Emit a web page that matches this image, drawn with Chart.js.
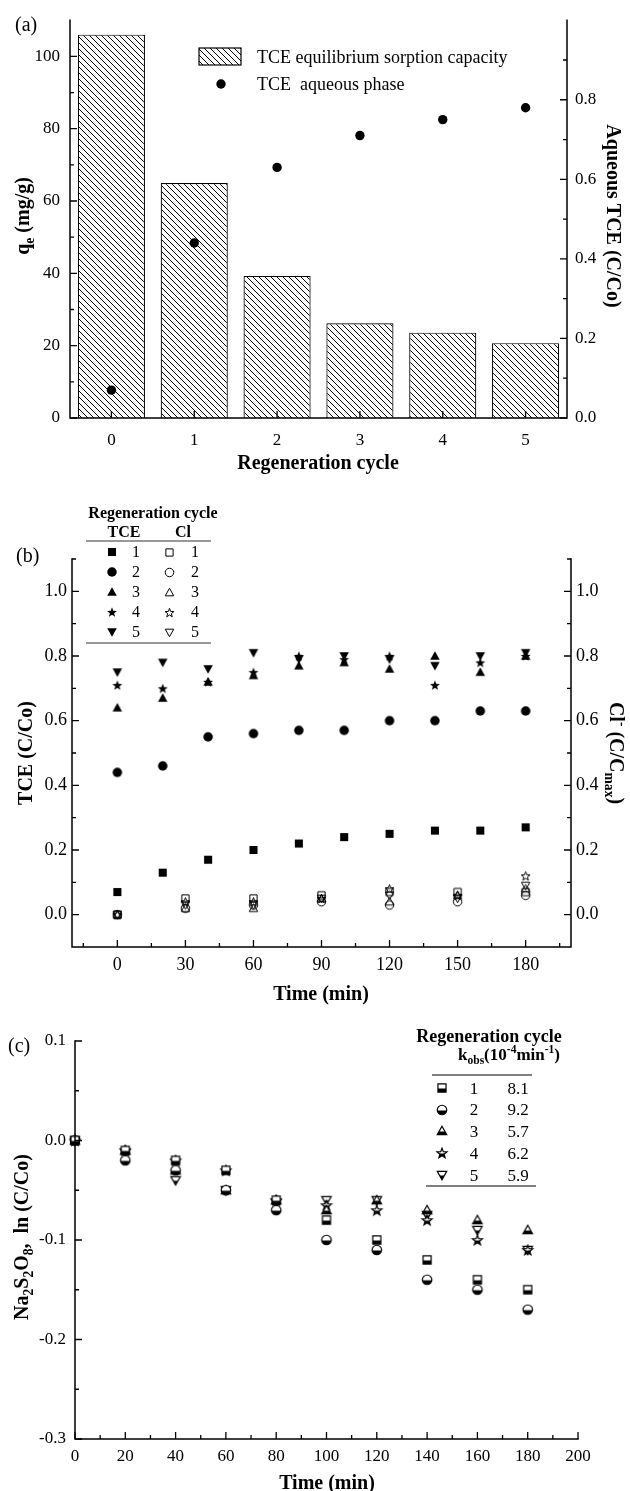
<!DOCTYPE html>
<html><head><meta charset="utf-8">
<script src="https://cdn.jsdelivr.net/npm/chart.js@4.4.0/dist/chart.umd.min.js"></script>
<style>
html,body{margin:0;padding:0;background:#fff;}
#wrap{position:relative;width:630px;height:1491px;overflow:hidden;}
canvas{position:absolute;left:0;}
</style></head><body>
<div id="wrap">
<canvas id="ca" width="630" height="475" style="top:0px"></canvas>
<canvas id="cb" width="630" height="535" style="top:475px"></canvas>
<canvas id="cc" width="630" height="481" style="top:1010px"></canvas>
</div>
<script>
// ---------------- DATA ----------------
// Panel (a)
const regenCycles = ['0','1','2','3','4','5'];
const sorptionCapacity = [106, 65, 39.3, 26.2, 23.6, 20.7];   // qe (mg/g)
const aqueousTCE = [0.07, 0.44, 0.63, 0.71, 0.75, 0.78];      // C/Co
const ticksA_left = [0, 20, 40, 60, 80, 100];
const ticksA_right = [0, 0.2, 0.4, 0.6, 0.8];

// Panel (b)
const timeTCE = [0, 20, 40, 60, 80, 100, 120, 140, 160, 180];
const tceCycle1 = [0.07, 0.13, 0.17, 0.20, 0.22, 0.24, 0.25, 0.26, 0.26, 0.27];
const tceCycle2 = [0.44, 0.46, 0.55, 0.56, 0.57, 0.57, 0.60, 0.60, 0.63, 0.63];
const tceCycle3 = [0.64, 0.67, 0.72, 0.74, 0.77, 0.78, 0.76, 0.80, 0.75, 0.80];
const tceCycle4 = [0.71, 0.70, 0.72, 0.75, 0.80, 0.79, 0.80, 0.71, 0.78, 0.80];
const tceCycle5 = [0.75, 0.78, 0.76, 0.81, 0.79, 0.80, 0.79, 0.77, 0.80, 0.81];
const timeCl = [0, 30, 60, 90, 120, 150, 180];
const clCycle1 = [0, 0.05, 0.05, 0.06, 0.07, 0.07, 0.07];
const clCycle2 = [0, 0.02, 0.03, 0.04, 0.03, 0.04, 0.06];
const clCycle3 = [0, 0.02, 0.02, 0.05, 0.04, 0.06, 0.08];
const clCycle4 = [0, 0.04, 0.04, 0.05, 0.08, 0.06, 0.12];
const clCycle5 = [0, 0.03, 0.03, 0.05, 0.06, 0.05, 0.09];
const ticksB_x = [0, 30, 60, 90, 120, 150, 180];
const ticksB_y = [0, 0.2, 0.4, 0.6, 0.8, 1.0];

// Panel (c)
const timeC = [0, 20, 40, 60, 80, 100, 120, 140, 160, 180];
const lnC1 = [0, -0.01, -0.02, -0.03, -0.06, -0.08, -0.10, -0.12, -0.14, -0.15];
const lnC2 = [0, -0.02, -0.03, -0.05, -0.07, -0.10, -0.11, -0.14, -0.15, -0.17];
const lnC3 = [0, -0.01, -0.03, -0.05, -0.06, -0.07, -0.06, -0.07, -0.08, -0.09];
const lnC4 = [0, -0.01, -0.02, -0.03, -0.06, -0.065, -0.07, -0.08, -0.10, -0.11];
const lnC5 = [0, -0.012, -0.04, -0.05, -0.063, -0.06, -0.06, -0.075, -0.09, -0.11];
const kobsValues = ['8.1', '9.2', '5.7', '6.2', '5.9'];
const cycleNames = ['1', '2', '3', '4', '5'];
const ticksC_x = [0, 20, 40, 60, 80, 100, 120, 140, 160, 180, 200];
const ticksC_y = [-0.3, -0.2, -0.1, 0, 0.1];

// ---------------- HELPERS ----------------
const FONT = "'Liberation Serif','Times New Roman',serif";
const TOP_A = 0, TOP_B = 475, TOP_C = 1010;

function makeSymbol(shape, fill, size, lw) {
  const pad = 2;
  const S = Math.ceil(size + 2 * pad);
  const c = document.createElement('canvas');
  c.width = S; c.height = S;
  const g = c.getContext('2d');
  const cx = S / 2, cy = S / 2, r = size / 2;
  function path() {
    g.beginPath();
    if (shape === 'square') {
      const h = r * 0.85;
      g.rect(cx - h, cy - h, 2 * h, 2 * h);
    } else if (shape === 'circle') {
      g.arc(cx, cy, r, 0, Math.PI * 2);
    } else if (shape === 'tri') {
      g.moveTo(cx, cy - r); g.lineTo(cx + r, cy + r * 0.78); g.lineTo(cx - r, cy + r * 0.78); g.closePath();
    } else if (shape === 'tridown') {
      g.moveTo(cx, cy + r); g.lineTo(cx + r, cy - r * 0.78); g.lineTo(cx - r, cy - r * 0.78); g.closePath();
    } else if (shape === 'star') {
      const R = r * 1.1, ri = R * 0.42;
      for (let i = 0; i < 10; i++) {
        const ang = -Math.PI / 2 + i * Math.PI / 5;
        const rr = i % 2 === 0 ? R : ri;
        const px = cx + rr * Math.cos(ang), py = cy + 0.5 + rr * Math.sin(ang);
        if (i === 0) g.moveTo(px, py); else g.lineTo(px, py);
      }
      g.closePath();
    }
  }
  g.lineWidth = lw || 1; g.strokeStyle = '#000'; g.fillStyle = '#000';
  if (fill === 'full') { path(); g.fill(); }
  else if (fill === 'open') { path(); g.stroke(); }
  else {
    path(); g.fillStyle = '#fff'; g.fill();
    g.save(); path(); g.clip(); g.fillStyle = '#000'; g.fillRect(0, cy + 0.5, S, S); g.restore();
    path(); g.stroke();
  }
  return c;
}

function makeHatch() {
  const s = 6;
  const c = document.createElement('canvas');
  c.width = s; c.height = s;
  const g = c.getContext('2d');
  g.fillStyle = '#fff'; g.fillRect(0, 0, s, s);
  g.strokeStyle = '#000'; g.lineWidth = 1;
  g.beginPath();
  for (const x0 of [-s, 0, s]) { g.moveTo(x0, 0); g.lineTo(x0 + s, s); }
  g.stroke();
  return g.createPattern(c, 'repeat');
}

function drawRich(ctx, parts, x, y, o) {
  const size = o.size, weight = o.weight || 'normal', rot = o.rot || 0, align = o.align || 'center';
  ctx.save();
  ctx.translate(x, y); ctx.rotate(rot);
  ctx.fillStyle = '#000'; ctx.textBaseline = 'alphabetic'; ctx.textAlign = 'left';
  let w = 0;
  const items = parts.map(p => {
    const s = (p.sub || p.sup) ? size * 0.68 : size;
    ctx.font = `${weight} ${s}px ${FONT}`;
    const m = ctx.measureText(p.t).width;
    w += m;
    return { p, s, m };
  });
  let cx = align === 'center' ? -w / 2 : (align === 'right' ? -w : 0);
  const base = size * 0.34;
  for (const it of items) {
    ctx.font = `${weight} ${it.s}px ${FONT}`;
    let dy = base;
    if (it.p.sub) dy += size * 0.24;
    if (it.p.sup) dy -= size * 0.4;
    ctx.fillText(it.p.t, cx, dy);
    cx += it.m;
  }
  ctx.restore();
}

function drawAxes(chart, spec) {
  const { ctx, chartArea: a, scales } = chart;
  ctx.save();
  ctx.strokeStyle = '#000';
  ctx.lineWidth = 1.5;
  ctx.lineCap = 'square';
  ctx.beginPath();
  if (spec.left) { ctx.moveTo(a.left, a.top); ctx.lineTo(a.left, a.bottom); }
  if (spec.right) { ctx.moveTo(a.right, a.top); ctx.lineTo(a.right, a.bottom); }
  ctx.moveTo(a.left, a.bottom); ctx.lineTo(a.right, a.bottom);
  ctx.stroke();
  ctx.lineWidth = 1.3; ctx.lineCap = 'butt';
  ctx.beginPath();
  const vt = (scale, x, dir, vals, len) => vals.forEach(v => { const y = scale.getPixelForValue(v); ctx.moveTo(x, y); ctx.lineTo(x + dir * len, y); });
  const ht = (scale, vals, len) => vals.forEach(v => { const x = scale.getPixelForValue(v); ctx.moveTo(x, a.bottom); ctx.lineTo(x, a.bottom - len); });
  if (spec.left) { vt(scales[spec.left.id], a.left, 1, spec.left.major, 7); vt(scales[spec.left.id], a.left, 1, spec.left.minor, 4); }
  if (spec.right) { vt(scales[spec.right.id], a.right, -1, spec.right.major, 7); vt(scales[spec.right.id], a.right, -1, spec.right.minor, 4); }
  ht(scales.x, spec.bottom.major, 7); ht(scales.x, spec.bottom.minor || [], 4);
  ctx.stroke();
  ctx.restore();
}

const hideAxis = (extra) => Object.assign({
  grid: { display: false, drawTicks: false },
  border: { display: false },
}, extra);

function fixedTicks(vals) { return (scale) => { scale.ticks = vals.map(v => ({ value: v })); }; }

// ---------------- PANEL (a) ----------------
const hatch = makeHatch();
const tickFontA = { family: FONT, size: 17 };
new Chart(document.getElementById('ca'), {
  type: 'bar',
  data: {
    labels: regenCycles,
    datasets: [
      { type: 'bar', label: 'TCE equilibrium sorption capacity', data: sorptionCapacity, backgroundColor: hatch,
        borderColor: '#000', borderWidth: 1.2, categoryPercentage: 1, barPercentage: 0.81, yAxisID: 'y', order: 2 },
      { type: 'line', label: 'TCE  aqueous phase', data: aqueousTCE, showLine: false, pointStyle: 'circle',
        pointRadius: 4.7, pointBackgroundColor: '#000', pointBorderWidth: 0, yAxisID: 'y1', order: 1, clip: false }
    ]
  },
  options: {
    responsive: false, animation: false, events: [],
    layout: { padding: { top: 14, left: 0, right: 0, bottom: 0 } },
    plugins: { legend: { display: false }, tooltip: { enabled: false } },
    scales: {
      x: hideAxis({ ticks: { font: tickFontA, color: '#000', padding: 12 }, afterFit(s) { s.height = 57; } }),
      y: hideAxis({ position: 'left', min: 0, max: 110, afterBuildTicks: fixedTicks(ticksA_left),
        ticks: { font: tickFontA, color: '#000', padding: 10 }, afterFit(s) { s.width = 70; } }),
      y1: hideAxis({ position: 'right', min: 0, max: 1.0, afterBuildTicks: fixedTicks(ticksA_right),
        ticks: { font: tickFontA, color: '#000', padding: 8, callback: v => v.toFixed(1) }, afterFit(s) { s.width = 63; } })
    }
  },
  plugins: [{
    id: 'decorA',
    afterDraw(chart) {
      const ctx = chart.ctx, T = TOP_A;
      drawAxes(chart, {
        left: { id: 'y', major: ticksA_left, minor: [10, 30, 50, 70, 90] },
        right: { id: 'y1', major: ticksA_right, minor: [0.1, 0.3, 0.5, 0.7, 0.9] },
        bottom: { major: regenCycles.map((_, i) => i) }
      });
      // legend
      const ds = chart.data.datasets;
      ctx.save();
      ctx.fillStyle = hatch; ctx.fillRect(199, 48 - T, 42, 17);
      ctx.strokeStyle = '#000'; ctx.lineWidth = 1.2; ctx.strokeRect(199, 48 - T, 42, 17);
      ctx.fillStyle = '#000'; ctx.beginPath(); ctx.arc(221, 84 - T, 4.7, 0, Math.PI * 2); ctx.fill();
      ctx.restore();
      drawRich(ctx, [{ t: ds[0].label }], 257, 57 - T, { size: 18, align: 'left' });
      drawRich(ctx, [{ t: ds[1].label }], 257, 84 - T, { size: 18, align: 'left' });
      // titles
      drawRich(ctx, [{ t: '(a)' }], 15, 24 - T, { size: 20, align: 'left' });
      drawRich(ctx, [{ t: 'q' }, { t: 'e', sub: true }, { t: ' (mg/g)' }], 22, 216 - T, { size: 20, weight: 'bold', rot: -Math.PI / 2 });
      drawRich(ctx, [{ t: 'Aqueous TCE (C/Co)' }], 614, 216 - T, { size: 20, weight: 'bold', rot: Math.PI / 2 });
      drawRich(ctx, [{ t: 'Regeneration cycle' }], 318, 462 - T, { size: 20, weight: 'bold' });
    }
  }]
});

// ---------------- PANEL (b) ----------------
const tceSeries = [tceCycle1, tceCycle2, tceCycle3, tceCycle4, tceCycle5];
const clSeries = [clCycle1, clCycle2, clCycle3, clCycle4, clCycle5];
const shapes = ['square', 'circle', 'tri', 'star', 'tridown'];
const symFullB = shapes.map(s => makeSymbol(s, 'full', 9.5));
const symOpenB = shapes.map(s => makeSymbol(s, 'open', 8.5));
const tickFontB = { family: FONT, size: 18 };
const dsB = [];
tceSeries.forEach((arr, k) => dsB.push({
  label: 'TCE ' + cycleNames[k], data: timeTCE.map((t, i) => ({ x: t, y: arr[i] })),
  pointStyle: symFullB[k], pointRadius: 5, yAxisID: 'y', clip: false
}));
clSeries.forEach((arr, k) => dsB.push({
  label: 'Cl ' + cycleNames[k], data: timeCl.map((t, i) => ({ x: t, y: arr[i] })),
  pointStyle: symOpenB[k], pointRadius: 5, yAxisID: 'y1', clip: false
}));
new Chart(document.getElementById('cb'), {
  type: 'scatter',
  data: { datasets: dsB },
  options: {
    responsive: false, animation: false, events: [],
    layout: { padding: { top: 84, left: 0, right: 0, bottom: 0 } },
    plugins: { legend: { display: false }, tooltip: { enabled: false } },
    scales: {
      x: hideAxis({ type: 'linear', min: -20, max: 200, afterBuildTicks: fixedTicks(ticksB_x),
        ticks: { font: tickFontB, color: '#000', padding: 7 }, afterFit(s) { s.height = 63; } }),
      y: hideAxis({ position: 'left', min: -0.1, max: 1.1, afterBuildTicks: fixedTicks(ticksB_y),
        ticks: { font: tickFontB, color: '#000', padding: 5, callback: v => v.toFixed(1) }, afterFit(s) { s.width = 72; } }),
      y1: hideAxis({ position: 'right', min: -0.1, max: 1.1, afterBuildTicks: fixedTicks(ticksB_y),
        ticks: { font: tickFontB, color: '#000', padding: 5, callback: v => v.toFixed(1) }, afterFit(s) { s.width = 59; } })
    }
  },
  plugins: [{
    id: 'decorB',
    afterDraw(chart) {
      const ctx = chart.ctx, T = TOP_B;
      const minorY = [0.1, 0.3, 0.5, 0.7, 0.9, 1.1];
      drawAxes(chart, {
        left: { id: 'y', major: ticksB_y, minor: minorY },
        right: { id: 'y1', major: ticksB_y, minor: minorY },
        bottom: { major: ticksB_x, minor: [-15, 15, 45, 75, 105, 135, 165, 195] }
      });
      // legend table
      drawRich(ctx, [{ t: 'Regeneration cycle' }], 153, 513 - T, { size: 16, weight: 'bold' });
      drawRich(ctx, [{ t: 'TCE' }], 124, 532 - T, { size: 16, weight: 'bold' });
      drawRich(ctx, [{ t: 'Cl' }], 183, 532 - T, { size: 16, weight: 'bold' });
      ctx.save();
      ctx.strokeStyle = '#333'; ctx.lineWidth = 1.2;
      ctx.beginPath();
      ctx.moveTo(86, 541 - T); ctx.lineTo(211, 541 - T);
      ctx.moveTo(86, 643 - T); ctx.lineTo(211, 643 - T);
      ctx.stroke();
      ctx.restore();
      cycleNames.forEach((n, i) => {
        const y = 552 + 20 * i - T;
        const f = symFullB[i], o = symOpenB[i];
        ctx.drawImage(f, Math.round(112 - f.width / 2), Math.round(y - f.height / 2));
        ctx.drawImage(o, Math.round(169 - o.width / 2), Math.round(y - o.height / 2));
        drawRich(ctx, [{ t: n }], 136, y, { size: 16 });
        drawRich(ctx, [{ t: n }], 195, y, { size: 16 });
      });
      // titles
      drawRich(ctx, [{ t: '(b)' }], 16, 555 - T, { size: 20, align: 'left' });
      drawRich(ctx, [{ t: 'TCE (C/Co)' }], 25, 753 - T, { size: 20, weight: 'bold', rot: -Math.PI / 2 });
      drawRich(ctx, [{ t: 'Cl' }, { t: '-', sup: true }, { t: ' (C/C' }, { t: 'max', sub: true }, { t: ')' }], 617, 753 - T,
        { size: 20, weight: 'bold', rot: Math.PI / 2 });
      drawRich(ctx, [{ t: 'Time (min)' }], 321, 993 - T, { size: 20, weight: 'bold' });
    }
  }]
});

// ---------------- PANEL (c) ----------------
const lnSeries = [lnC1, lnC2, lnC3, lnC4, lnC5];
const symHalfC = shapes.map(s => makeSymbol(s, 'half', 9.5, 1.2));
const tickFontC = { family: FONT, size: 17 };
new Chart(document.getElementById('cc'), {
  type: 'scatter',
  data: {
    datasets: lnSeries.map((arr, k) => ({
      label: 'Cycle ' + cycleNames[k], data: timeC.map((t, i) => ({ x: t, y: arr[i] })),
      pointStyle: symHalfC[k], pointRadius: 5, clip: false
    }))
  },
  options: {
    responsive: false, animation: false, events: [],
    layout: { padding: { top: 31, left: 0, right: 52, bottom: 0 } },
    plugins: { legend: { display: false }, tooltip: { enabled: false } },
    scales: {
      x: hideAxis({ type: 'linear', min: 0, max: 200, afterBuildTicks: fixedTicks(ticksC_x),
        ticks: { font: tickFontC, color: '#000', padding: 7 }, afterFit(s) { s.height = 52; } }),
      y: hideAxis({ position: 'left', min: -0.3, max: 0.1, afterBuildTicks: fixedTicks(ticksC_y),
        ticks: { font: tickFontC, color: '#000', padding: 9, callback: v => v.toFixed(1) }, afterFit(s) { s.width = 75; } })
    }
  },
  plugins: [{
    id: 'decorC',
    afterDraw(chart) {
      const ctx = chart.ctx, T = TOP_C;
      drawAxes(chart, {
        left: { id: 'y', major: ticksC_y, minor: [-0.25, -0.15, -0.05, 0.05] },
        bottom: { major: ticksC_x, minor: [10, 30, 50, 70, 90, 110, 130, 150, 170, 190] }
      });
      // legend table
      drawRich(ctx, [{ t: 'Regeneration cycle' }], 489, 1036 - T, { size: 18, weight: 'bold' });
      drawRich(ctx, [{ t: 'k' }, { t: 'obs', sub: true }, { t: '(10' }, { t: '-4', sup: true }, { t: 'min' }, { t: '-1', sup: true }, { t: ')' }],
        509, 1054 - T, { size: 17, weight: 'bold' });
      ctx.save();
      ctx.strokeStyle = '#555'; ctx.lineWidth = 1.5;
      ctx.beginPath();
      ctx.moveTo(432, 1075 - T); ctx.lineTo(532, 1075 - T);
      ctx.moveTo(426, 1186 - T); ctx.lineTo(536, 1186 - T);
      ctx.stroke();
      ctx.restore();
      cycleNames.forEach((n, i) => {
        const y = 1088 + 21.7 * i - T;
        const s = symHalfC[i];
        ctx.drawImage(s, Math.round(442 - s.width / 2), Math.round(y - s.height / 2));
        drawRich(ctx, [{ t: n }], 474, y, { size: 17 });
        drawRich(ctx, [{ t: kobsValues[i] }], 518, y, { size: 17 });
      });
      // titles
      drawRich(ctx, [{ t: '(c)' }], 8, 1045 - T, { size: 20, align: 'left' });
      drawRich(ctx, [{ t: 'Na' }, { t: '2', sub: true }, { t: 'S' }, { t: '2', sub: true }, { t: 'O' }, { t: '8', sub: true }, { t: ',  ln (C/Co)' }],
        21, 1237 - T, { size: 20, weight: 'bold', rot: -Math.PI / 2 });
      drawRich(ctx, [{ t: 'Time (min)' }], 327, 1482 - T, { size: 20, weight: 'bold' });
    }
  }]
});
</script>
</body></html>
